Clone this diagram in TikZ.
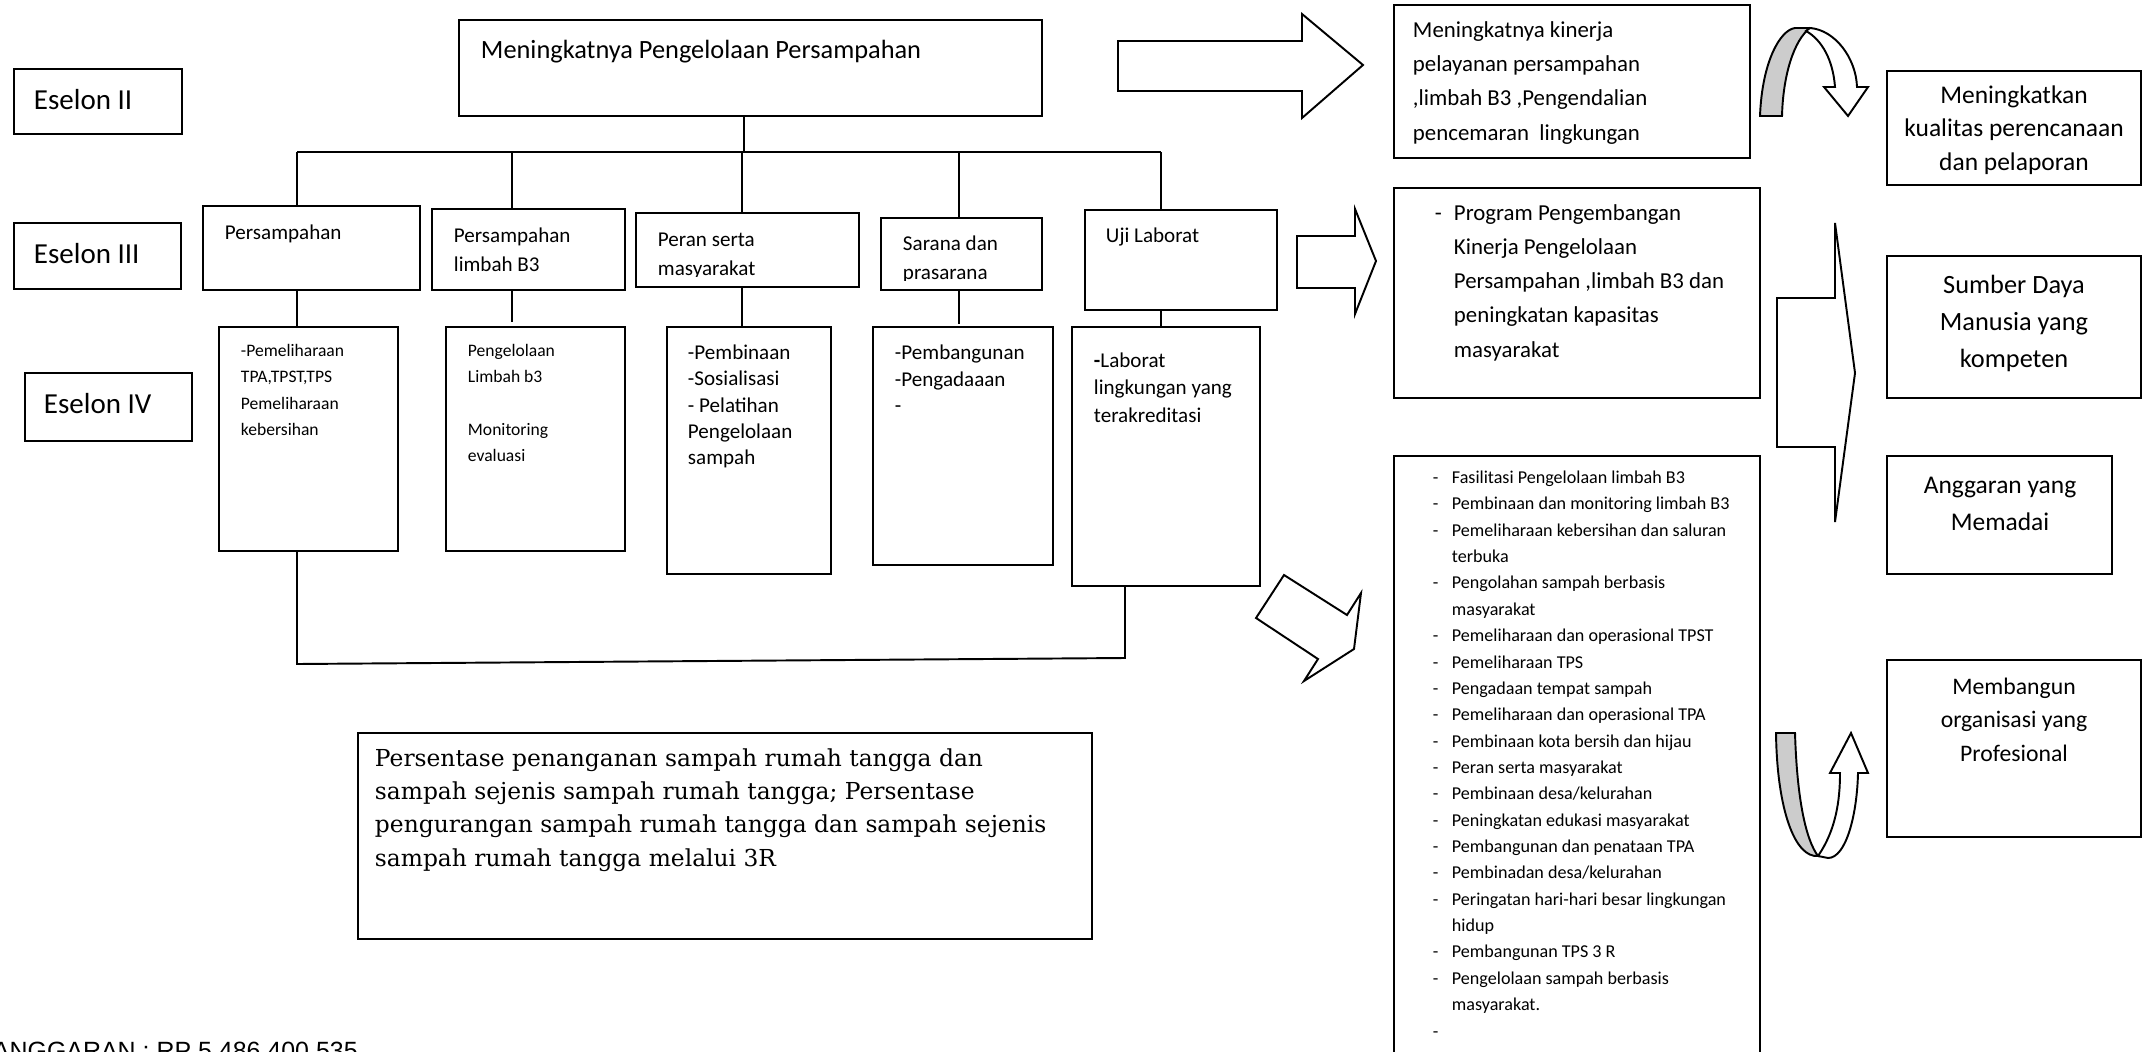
\documentclass[tikz,border=0pt]{standalone}
\usepackage{fontspec}
\setmainfont{Carlito}
\newfontfamily\serifbox{DejaVu Serif}
\newfontfamily\arialfont{Liberation Sans}
\usepackage{tikz}
\usetikzlibrary{fit}
\definecolor{ribbon}{RGB}{204,204,204}
\newdimen\pxu \pxu=0.02cm
\newcommand{\fsz}[2]{\fontsize{#1}{#2}\selectfont}
\newcommand{\itm}{\makebox[19\pxu][l]{-}}
\newcommand{\cnt}{\hspace*{19\pxu}}

\begin{document}
\begin{tikzpicture}[x=0.02cm, y=-0.02cm, line width=1.1pt,
  box/.style={draw, inner sep=0pt, fit={#1}},
  txt/.style={inner sep=0pt, anchor=base west, align=left},
  ctr/.style={inner sep=0pt, anchor=base, align=center},
  blockarrow/.style={draw, fill=white, line join=miter}]
  \useasboundingbox (0,0) rectangle (2149,1051);
  \clip (0,0) rectangle (2149,1051);
  \fill[white] (0,0) rectangle (2149,1051);
  %% 1. Eselon labels (text nodes sit on the baseline of their last line)
  \node[box={(14,69) (182,134)}] (es2) {};
  \node[txt, font=\fsz{16.5}{20}] (es2t) at (33,110) {Eselon II};
  \node[box={(14,223) (181,289)}] (es3) {};
  \node[txt, font=\fsz{16.5}{20}] (es3t) at (33,263) {Eselon III};
  \node[box={(25,373) (192,441)}] (es4) {};
  \node[txt, font=\fsz{16.5}{20}] (es4t) at (43,413) {Eselon IV};
  %% 2. Eselon II box
  \node[box={(459,20) (1042,116)}] (top) {};
  \node[txt, font=\fsz{15}{18}] (topt) at (480,59) {Meningkatnya Pengelolaan Persampahan};
  %% 3. Eselon III boxes
  \node[box={(203,206) (420,290)}] (e3p1) {};
  \node[box={(432,209) (625,290)}] (e3p2) {};
  \node[box={(636,213) (859,287)}] (e3p3) {};
  \node[box={(881,218) (1042,290)}] (e3p4) {};
  \node[box={(1085,210) (1277,310)}] (e3p5) {};
  \node[txt, font=\fsz{12}{16.5}] (e3t1) at (224,239) {Persampahan};
  \node[txt, font=\fsz{12}{16.5}] (e3t2) at (453,271) {Persampahan\\limbah B3};
  \begin{scope}
    \clip (637,214) rectangle (858,276);
    \node[txt, font=\fsz{12}{16.5}] (e3t3) at (657,275) {Peran serta\\masyarakat};
  \end{scope}
  \begin{scope}
    \clip (882,219) rectangle (1041,280);
    \node[txt, font=\fsz{12}{16.5}] (e3t4) at (902,279) {Sarana dan\\prasarana};
  \end{scope}
  \node[txt, font=\fsz{12}{16.5}] (e3t5) at (1105,242) {Uji Laborat};
  %% 4. Eselon IV boxes
  \node[box={(219,327) (398,551)}] (e4p1) {};
  \node[box={(446,327) (625,551)}] (e4p2) {};
  \node[box={(667,327) (831,574)}] (e4p3) {};
  \node[box={(873,327) (1053,565)}] (e4p4) {};
  \node[box={(1072,327) (1260,586)}] (e4p5) {};
  \node[txt, font=\fsz{10}{14.8}] (e4t1) at (240,435)
    {-Pemeliharaan\\TPA,TPST,TPS\\Pemeliharaan\\kebersihan};
  \node[txt, font=\fsz{10}{14.8}] (e4t2) at (467,461)
    {Pengelolaan\\Limbah b3\\\mbox{}\\Monitoring\\evaluasi};
  \node[txt, font=\fsz{12}{14.8}] (e4t3) at (687,464)
    {-Pembinaan\\-Sosialisasi\\- Pelatihan\\Pengelolaan\\sampah};
  \node[txt, font=\fsz{12}{14.8}] (e4t4) at (894,412)
    {-Pembangunan\\-Pengadaaan\\-};
  \node[txt, font=\fsz{12}{15.4}] (e4t5) at (1093,422)
    {\textbf{-}Laborat\\lingkungan yang\\terakreditasi};
  %% 5. Connectors
  \coordinate (stem) at (744,152);
  \coordinate (d1) at (297,152);
  \coordinate (d2) at (512,152);
  \coordinate (d3) at (742,152);
  \coordinate (d4) at (959,152);
  \coordinate (d5) at (1161,152);
  \draw (stem |- top.south) -- (stem);
  \draw (d1) -- (d5);
  \foreach \n in {1,...,5}
    \draw (d\n) -- (d\n |- e3p\n.north);
  \draw (d1 |- e3p1.south) -- (d1 |- e4p1.north);
  \draw (d2 |- e3p2.south) -- (512,322);
  \draw (d3 |- e3p3.south) -- (d3 |- e4p3.north);
  \draw (d4 |- e3p4.south) -- (959,324);
  \draw (d5 |- e3p5.south) -- (d5 |- e4p5.north);
  \coordinate (lpA) at (297,664);
  \coordinate (lpB) at (1125,658);
  \draw (lpA |- e4p1.south) -- (lpA) -- (lpB) -- (lpB |- e4p5.south);
  %% 6. Right column
  \node[box={(1394,5) (1750,158)}] (kin) {};
  \node[txt, font=\fsz{13}{19.5}] (kint) at (1412,140)
    {Meningkatnya kinerja\\pelayanan persampahan\\,limbah B3 ,Pengendalian\\pencemaran\ \ lingkungan};
  \node[box={(1394,188) (1760,398)}] (prog) {};
  \node[txt, font=\fsz{13}{19.4}] (progt) at (1434,357)
    {\itm Program Pengembangan\\\cnt Kinerja Pengelolaan\\\cnt Persampahan ,limbah B3 dan\\\cnt peningkatan kapasitas\\\cnt masyarakat};
  \node[box={(1394,456) (1760,1100)}] (keg) {};
  \node[txt, font=\fsz{10.3}{15}] (kegt) at (1432,1037)
    {\itm Fasilitasi Pengelolaan limbah B3\\
     \itm Pembinaan dan monitoring limbah B3\\
     \itm Pemeliharaan kebersihan dan saluran\\
     \cnt terbuka\\
     \itm Pengolahan sampah berbasis\\
     \cnt masyarakat\\
     \itm Pemeliharaan dan operasional TPST\\
     \itm Pemeliharaan TPS\\
     \itm Pengadaan tempat sampah\\
     \itm Pemeliharaan dan operasional TPA\\
     \itm Pembinaan kota bersih dan hijau\\
     \itm Peran serta masyarakat\\
     \itm Pembinaan desa/kelurahan\\
     \itm Peningkatan edukasi masyarakat\\
     \itm Pembangunan dan penataan TPA\\
     \itm Pembinadan desa/kelurahan\\
     \itm Peringatan hari-hari besar lingkungan\\
     \cnt hidup\\
     \itm Pembangunan TPS 3 R\\
     \itm Pengelolaan sampah berbasis\\
     \cnt masyarakat.\\
     \itm};
  \node[box={(1887,71) (2141,185)}] (mkt) {};
  \node[ctr, font=\fsz{14.5}{18.8}] (mktt) at (2014,170)
    {Meningkatkan\\kualitas perencanaan\\dan pelaporan};
  \node[box={(1887,256) (2141,398)}] (sdm) {};
  \node[ctr, font=\fsz{15}{21}] (sdmt) at (2014,367)
    {Sumber Daya\\Manusia yang\\kompeten};
  \node[box={(1887,456) (2112,574)}] (ang) {};
  \node[ctr, font=\fsz{14.5}{21}] (angt) at (2000,530)
    {Anggaran yang\\Memadai};
  \node[box={(1887,660) (2141,837)}] (org) {};
  \node[ctr, font=\fsz{13.5}{18.8}] (orgt) at (2014,761)
    {Membangun\\organisasi yang\\Profesional};
  %% 7. Indicator box
  \node[box={(358,733) (1092,939)}] (ind) {};
  \node[txt, font=\serifbox\fsz{13.3}{18.8}] (indt) at (374,866)
    {Persentase penanganan sampah rumah tangga dan\\sampah sejenis sampah rumah tangga; Persentase\\pengurangan sampah rumah tangga dan sampah sejenis\\sampah rumah tangga melalui 3R};
  \node[txt, font=\arialfont\fsz{14.2}{17}] (angg) at (-8,1059) {ANGGARAN : RP 5.486.400.535};
  %% 8. Block arrows
  \draw[blockarrow] (1118,41) -- (1302,41) -- (1302,14) -- (1363,65) -- (1302,118) -- (1302,91) -- (1118,91) -- cycle;
  \draw[blockarrow] (1297,236) -- (1355,236) -- (1355,209) -- (1376,261) -- (1355,314) -- (1355,288) -- (1297,288) -- cycle;
  \draw[blockarrow] (1835,223) -- (1855,373) -- (1835,522) -- (1835,447) -- (1777,447) -- (1777,298) -- (1835,298) -- cycle;
  \draw[blockarrow] (1256,618) -- (1284,575) -- (1347,615) -- (1361,593) -- (1354,649) -- (1304,681) -- (1318,659) -- cycle;
  %% 9. Curved arrows
  \draw[fill=ribbon] (1760,116) .. controls (1762,62) and (1780,30) .. (1795,28) -- (1810,28)
    .. controls (1794,40) and (1783,75) .. (1782,116) -- cycle;
  \draw[blockarrow] (1810,28) .. controls (1835,30) and (1856,58) .. (1857,87) -- (1868,87) -- (1848,116)
    -- (1824,87) -- (1835,87) .. controls (1833,60) and (1822,40) .. (1806,31) -- cycle;
  \draw[fill=ribbon] (1776,733) -- (1795,733) .. controls (1797,800) and (1806,840) .. (1818,856)
    .. controls (1795,858) and (1777,810) .. (1776,733) -- cycle;
  \draw[blockarrow] (1818,856) .. controls (1836,830) and (1840,800) .. (1840,773) -- (1830,773) -- (1851,733)
    -- (1868,773) -- (1858,773) .. controls (1857,815) and (1846,858) .. (1828,858) -- cycle;
\end{tikzpicture}
\end{document}
